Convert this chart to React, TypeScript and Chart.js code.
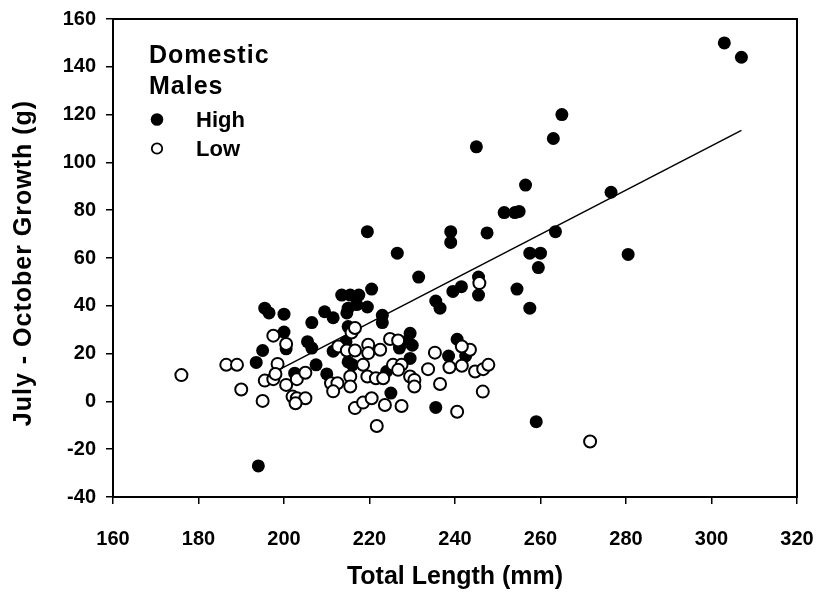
import { useEffect, useRef } from "react";
import { Chart, registerables } from "chart.js";

Chart.register(...registerables);

const xTickValues = [160, 180, 200, 220, 240, 260, 280, 300, 320];
const yTickValues = [-40, -20, 0, 20, 40, 60, 80, 100, 120, 140, 160];

const legendTitle = ["Domestic", "Males"];
const seriesNames = ["High", "Low"];
const xTitle = "Total Length (mm)";
const yTitle = "July - October Growth (g)";

// High group (filled circles)
const highX = [
  303, 307, 265, 263, 245, 256.5, 276.5, 251.5, 254, 255,
  247.5, 263.5, 257.5, 260, 259.5, 280.5, 254.5, 257.5, 259, 219.5,
  239, 239, 226.5, 231.5, 245.5, 245.5, 239.5, 241.5, 220.5, 213.5,
  215.5, 217.5, 235.5, 236.5, 209.5, 211.5, 215, 219.5, 217, 223,
  223, 206.5, 215, 205.5, 206.5, 211.5, 214.5, 215, 216, 229.5,
  228.5, 230, 227, 229.5, 207.5, 210, 240.5, 238.5, 242.5, 224,
  225, 235.5, 195.5, 196.5, 200, 200, 195, 193.5, 200.5, 202.5,
  194, 214.7
];
const highY = [
  150, 144, 120, 110, 106.5, 90.5, 87.5, 79, 79, 79.5,
  70.5, 71, 62, 62, 56, 61.5, 47, 39, -8.5, 71,
  71, 66.5, 62, 52, 52, 44.5, 46, 48, 47, 44.5,
  44.5, 44.5, 42, 39, 37.5, 35, 39, 39.5, 40.5, 36,
  33, 33, 31.3, 25, 22.3, 21, 25, 16.5, 15.3, 28.5,
  25, 23.5, 22.3, 18, 15.3, 11.5, 26, 19, 19, 12.5,
  3.5, -2.5, 39, 37, 36.5, 29, 21.3, 16.3, 22, 11.8,
  -27, 37
];

// Low group (open circles)
const lowX = [
  176, 186.5, 189, 190, 195, 197.5, 198.5, 195.5, 197.5, 198,
  200.5, 203, 205, 202, 203, 205, 202.7, 200.5, 211, 212.5,
  211.5, 215.5, 215.5, 218.5, 219.5, 221.5, 223.2, 225.5, 227.5, 226.7,
  229.5, 230.5, 230.5, 233.7, 236.5, 238.7, 241.6, 244.7, 246.6, 247.8,
  246.5, 216.6, 218.5, 220.5, 223.6, 227.5, 240.5, 221.7, 271.6, 245.7,
  215.8, 216.6, 219.7, 222.5, 219.7, 224.8, 226.7, 212.7, 214.7, 216.6,
  235.3, 243.5, 241.6
];
const lowY = [
  11, 15.3, 15.3, 5, 0.2, 27.5, 15.7, 8.7, 9.3, 11.5,
  6.9, 9.3, 12, 2, 1.3, 1.3, -0.8, 24, 7.6, 7.6,
  4.2, 10.4, 6.2, 15.3, 10.4, 9.7, 9.7, 15.3, 15.3, 13.2,
  10.4, 9, 6.2, 13.5, 7.3, 14.3, 14.9, 12.5, 13.5, 15.3,
  4.1, -2.8, -0.5, 1.3, -1.5, -1.9, -4.3, -10.3, -16.8, 49.5,
  28.8, 30.7, 23.7, 21.6, 20.2, 26.1, 25.5, 23, 21.3, 21.3,
  20.4, 21.6, 23
];

// Regression line end points
const fitX = [194, 307];
const fitY = [8.8, 113.4];

const FONT = "'Liberation Sans', Arial, sans-serif";

const decorPlugin = {
  id: "decor",
  afterDraw(chart: any) {
    const { ctx, chartArea } = chart;
    ctx.save();
    // frame
    ctx.strokeStyle = "#000";
    ctx.lineWidth = 2;
    ctx.strokeRect(chartArea.left, chartArea.top, chartArea.right - chartArea.left, chartArea.bottom - chartArea.top);
    ctx.fillStyle = "#000";
    // axis titles
    ctx.font = `bold 25px ${FONT}`;
    ctx.textAlign = "center";
    ctx.textBaseline = "middle";
    ctx.fillText(xTitle, (chartArea.left + chartArea.right) / 2, 577);
    ctx.save();
    ctx.translate(24, 263);
    ctx.rotate(-Math.PI / 2);
    (ctx as any).letterSpacing = "1px";
    ctx.fillText(yTitle, 0, 0);
    ctx.restore();
    // legend
    ctx.textAlign = "left";
    ctx.textBaseline = "alphabetic";
    ctx.font = `bold 25px ${FONT}`;
    (ctx as any).letterSpacing = "1px";
    ctx.fillText(legendTitle[0], 149, 63);
    ctx.fillText(legendTitle[1], 149, 94);
    (ctx as any).letterSpacing = "0px";
    ctx.font = `bold 22px ${FONT}`;
    ctx.fillText(seriesNames[0], 196, 127);
    ctx.fillText(seriesNames[1], 196, 156);
    ctx.beginPath();
    ctx.arc(157, 119.5, 6.3, 0, Math.PI * 2);
    ctx.fill();
    ctx.beginPath();
    ctx.arc(157, 148.5, 5.2, 0, Math.PI * 2);
    ctx.fillStyle = "#fff";
    ctx.fill();
    ctx.lineWidth = 1.8;
    ctx.stroke();
    ctx.restore();
  },
};

export default function App() {
  const ref = useRef<HTMLCanvasElement | null>(null);
  useEffect(() => {
    if (!ref.current) return;
    const chart = new Chart(ref.current, {
      type: "scatter",
      data: {
        datasets: [
          {
            label: seriesNames[1],
            data: lowX.map((x, i) => ({ x, y: lowY[i] })),
            pointRadius: 6,
            pointBackgroundColor: "#fff",
            pointBorderColor: "#000",
            pointBorderWidth: 2,
            order: 1,
          },
          {
            label: seriesNames[0],
            data: highX.map((x, i) => ({ x, y: highY[i] })),
            pointRadius: 6.5,
            pointBackgroundColor: "#000",
            pointBorderColor: "#000",
            pointBorderWidth: 0,
            order: 2,
          },
          {
            type: "line",
            label: "fit",
            data: fitX.map((x, i) => ({ x, y: fitY[i] })),
            borderColor: "#000",
            borderWidth: 1.5,
            pointRadius: 0,
            showLine: true,
            fill: false,
            order: 3,
          } as any,
        ],
      },
      options: {
        responsive: false,
        animation: false,
        devicePixelRatio: 1,
        layout: { padding: { top: 19, right: 20, left: 0, bottom: 0 } },
        plugins: { legend: { display: false }, tooltip: { enabled: false } },
        scales: {
          x: {
            type: "linear",
            min: 160,
            max: 320,
            afterBuildTicks: (s: any) => { s.ticks = xTickValues.map((v) => ({ value: v })); },
            afterFit: (s: any) => { s.height = 95; s.paddingLeft = 0; s.paddingRight = 0; },
            grid: { display: true, drawOnChartArea: false, drawTicks: true, tickLength: 7, color: "#000", lineWidth: 1.5 },
            border: { display: false },
            ticks: { color: "#000", font: { family: FONT, size: 20, weight: "bold" }, padding: 23, maxRotation: 0 },
          },
          y: {
            type: "linear",
            min: -40,
            max: 160,
            afterBuildTicks: (s: any) => { s.ticks = yTickValues.map((v) => ({ value: v })); },
            afterFit: (s: any) => { s.width = 113; s.paddingTop = 0; s.paddingBottom = 0; },
            grid: { display: true, drawOnChartArea: false, drawTicks: true, tickLength: 7, color: "#000", lineWidth: 1.5 },
            border: { display: false },
            ticks: { color: "#000", font: { family: FONT, size: 20, weight: "bold" }, padding: 10 },
          },
        },
      },
      plugins: [decorPlugin],
    } as any);
    return () => chart.destroy();
  }, []);
  return (
    <div style={{ position: "fixed", left: 0, top: 0, width: 817, height: 592, background: "#fff" }}>
      <canvas ref={ref} width={817} height={592} style={{ width: 817, height: 592, display: "block" }} />
    </div>
  );
}
